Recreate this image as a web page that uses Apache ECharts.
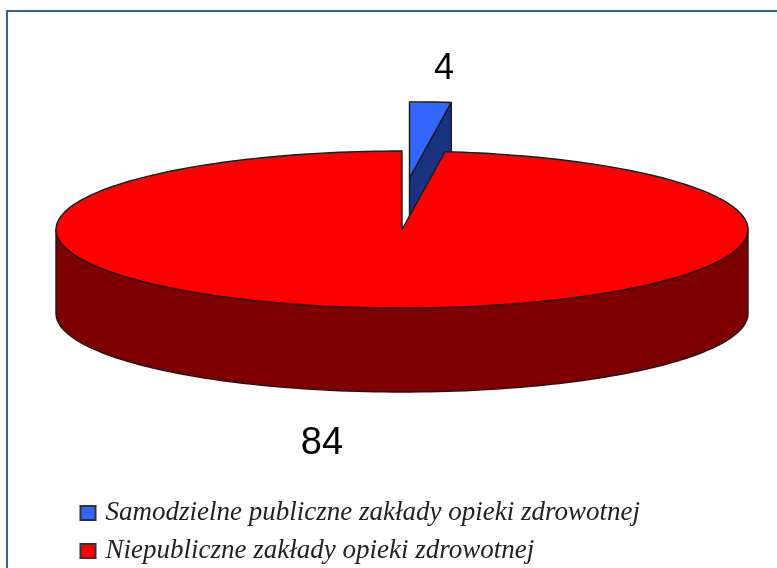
<!DOCTYPE html>
<html><head><meta charset="utf-8">
<style>html,body{margin:0;padding:0;background:#fff;overflow:hidden}#c{width:777px;height:568px}</style>
<script src="https://cdn.jsdelivr.net/npm/echarts@6/dist/echarts.min.js"></script>
</head><body><div id="c"></div>
<script>
const categories = ['Samodzielne publiczne zakłady opieki zdrowotnej', 'Niepubliczne zakłady opieki zdrowotnej'];
const values = [4, 84];
const topColors = ['#3366ff', '#ff0000'];
const sideColors = ['#1a3380', '#7f0000'];

const total = values[0] + values[1];
const pie = {cx: 402, cy: 229.5, rx: 346, ry: 78.5, depth: 84, sweepScale: 0.437};
const lineStyle = {stroke: '#1a1a1a', lineWidth: 1.4, lineJoin: 'round'};

function pt(deg, ox, oy, k) {
  const t = deg * Math.PI / 180;
  return [pie.cx + ox + k * pie.rx * Math.sin(t), pie.cy + oy - k * pie.ry * Math.cos(t)];
}
function arc(a0, a1, ox, oy, k) {
  const out = [], n = Math.max(2, Math.ceil(Math.abs(a1 - a0) / 1.5));
  for (let i = 0; i <= n; i++) out.push(pt(a0 + (a1 - a0) * i / n, ox, oy, k));
  return out;
}
function poly(points, fill) {
  return {type: 'polygon', shape: {points}, style: Object.assign({fill}, lineStyle)};
}
function text(str, x, y, size) {
  return {type: 'text', x, y, style: {text: str, fill: '#000', font: size + 'px "Liberation Sans"', align: 'center', verticalAlign: 'middle'}};
}
const sweep = () => values[0] / total * 360 * pie.sweepScale;

function renderSmall(params, api) {
  const v = api.value(0), a = sweep(), ox = 7.5, oy = -51.5, k = 0.97;
  const apex = [pie.cx + ox, pie.cy + oy];
  const end = pt(a, ox, oy, k);
  return {type: 'group', children: [
    poly([end, apex, [apex[0], apex[1] + pie.depth], [end[0], end[1] + pie.depth]], sideColors[0]),
    poly([apex].concat(arc(0, a, ox, oy, k)), topColors[0]),
    text(String(v), 444, 69, 36)
  ]};
}
function renderLarge(params, api) {
  const v = api.value(0), a = sweep();
  const apex = [pie.cx, pie.cy];
  const front = arc(90, 270, 0, 0, 1);
  const side = front.concat(arc(270, 90, 0, pie.depth, 1));
  return {type: 'group', children: [
    poly(side, sideColors[1]),
    poly([apex].concat(arc(a, 360, 0, 0, 1)), topColors[1]),
    text(String(v), 322, 444, 38)
  ]};
}
const chart = echarts.init(document.getElementById('c'), null, {renderer: 'canvas'});
chart.setOption({
  animation: false,
  backgroundColor: '#fff',
  graphic: [{type: 'rect', shape: {x: 7, y: 11, width: 780, height: 570},
    style: {fill: 'none', stroke: '#36648f', lineWidth: 2}, silent: true}],
  legend: {
    orient: 'vertical', left: 79.5, top: 499, padding: 0, itemWidth: 15, itemHeight: 14, itemGap: 10, icon: 'rect',
    selectedMode: false,
    textStyle: {fontFamily: 'Liberation Serif', fontStyle: 'italic', fontSize: 27, lineHeight: 28, color: '#222', padding: [0, 0, 0, 5]},
    data: categories
  },
  series: [
    {type: 'custom', name: categories[0], coordinateSystem: 'none', renderItem: renderSmall, data: [values[0]],
     itemStyle: {color: topColors[0], borderColor: '#333', borderWidth: 2}, z: 2},
    {type: 'custom', name: categories[1], coordinateSystem: 'none', renderItem: renderLarge, data: [values[1]],
     itemStyle: {color: topColors[1], borderColor: '#333', borderWidth: 2}, z: 3}
  ]
});
</script></body></html>
